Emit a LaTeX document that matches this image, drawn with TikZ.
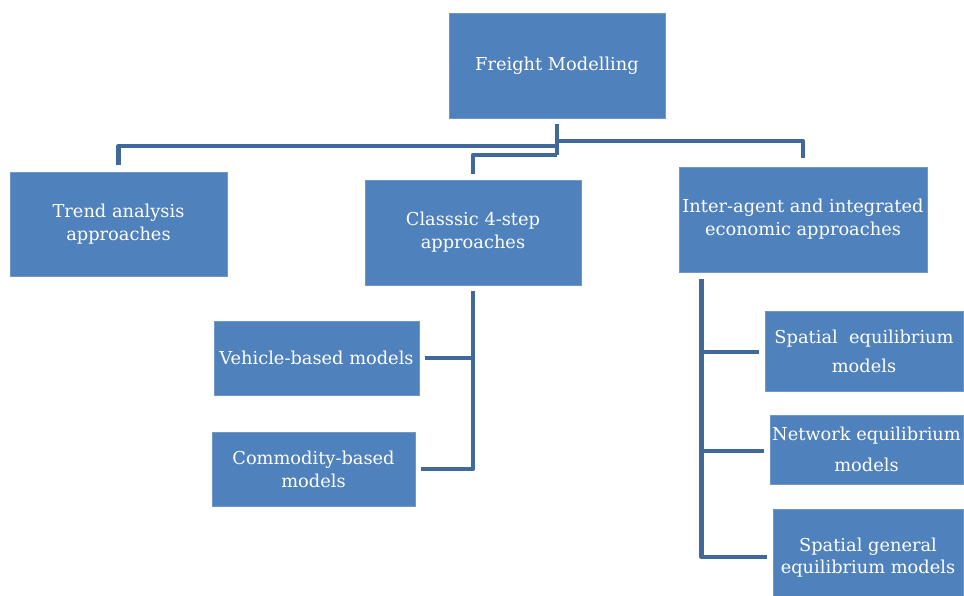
\documentclass[tikz,border=0pt]{standalone}
\usepackage{fontspec}
\setmainfont{DejaVu Serif}
\definecolor{boxblue}{HTML}{4F81BD}
\definecolor{boxedge}{HTML}{6F97C8}
\definecolor{linkblue}{HTML}{41689A}
\tikzset{
  box/.style={fill=boxblue, draw=boxedge, line width=0.6pt, text=white,
    align=center, inner sep=0pt, font=\fontsize{17.8}{23}\selectfont},
  conn/.style={draw=linkblue, line width=4.5pt, line join=round}
}
\begin{document}
\begin{tikzpicture}[x=1pt,y=-1pt]
\useasboundingbox (0,0) rectangle (964,596);
\node[box, minimum width=216pt, minimum height=105pt] (fm) at (557,65.5) {Freight Modelling};
\node[box, minimum width=217pt, minimum height=104pt] (ta) at (118.5,224) {Trend analysis\\approaches};
\node[box, minimum width=216pt, minimum height=105pt] (ca) at (473,232.5) {Classsic 4-step\\approaches};
\node[box, minimum width=248pt, minimum height=105pt] (ia) at (803,219.5) {Inter-agent and integrated\\economic approaches};
\node[box, minimum width=205pt, minimum height=74pt] (vb) at (316.5,358) {Vehicle-based models};
\node[box, minimum width=203pt, minimum height=74pt] (cb) at (313.5,469) {Commodity-based\\models};
\node[box, minimum width=198pt, minimum height=80pt] (se) at (864,351) {Spatial\ \ equilibrium\\[6pt]models};
\node[box, minimum width=193pt, minimum height=69pt] (ne) at (866.5,449.5) {Network equilibrium\\[8pt]models};
\node[box, minimum width=190pt, minimum height=87pt] (sg) at (868,552.5) {\parbox[c][87pt][c]{190pt}{\centering\vspace*{10pt}Spatial general\\[-1pt]equilibrium models}};
% top tree
\coordinate (fmb) at ([yshift=-6pt]fm.south);
\draw[conn] (fmb) -- (fmb |- 0,155);
\draw[conn] (fmb |- 0,146) -| ([yshift=7pt]ta.north);
\draw[conn] (fmb |- 0,141) -| ([yshift=9pt]ia.north);
\draw[conn] (fmb |- 0,155) -| ([yshift=6pt]ca.north);
% classic tree
\coordinate (cab) at ([yshift=-6pt]ca.south);
\draw[conn] (cab) |- ([xshift=6pt]cb.east);
\draw[conn] (cab |- vb.east) -- ([xshift=6pt]vb.east);
% right tree
\coordinate (iab) at ([xshift=23pt,yshift=-7pt]ia.south west);
\draw[conn] (iab) |- ([xshift=-6pt,yshift=-4.5pt]sg.west);
\draw[conn] (iab |- 0,352) -- ([xshift=-6pt]se.west |- 0,352);
\draw[conn] (iab |- 0,451) -- ([xshift=-6pt]ne.west |- 0,451);
\end{tikzpicture}
\end{document}
